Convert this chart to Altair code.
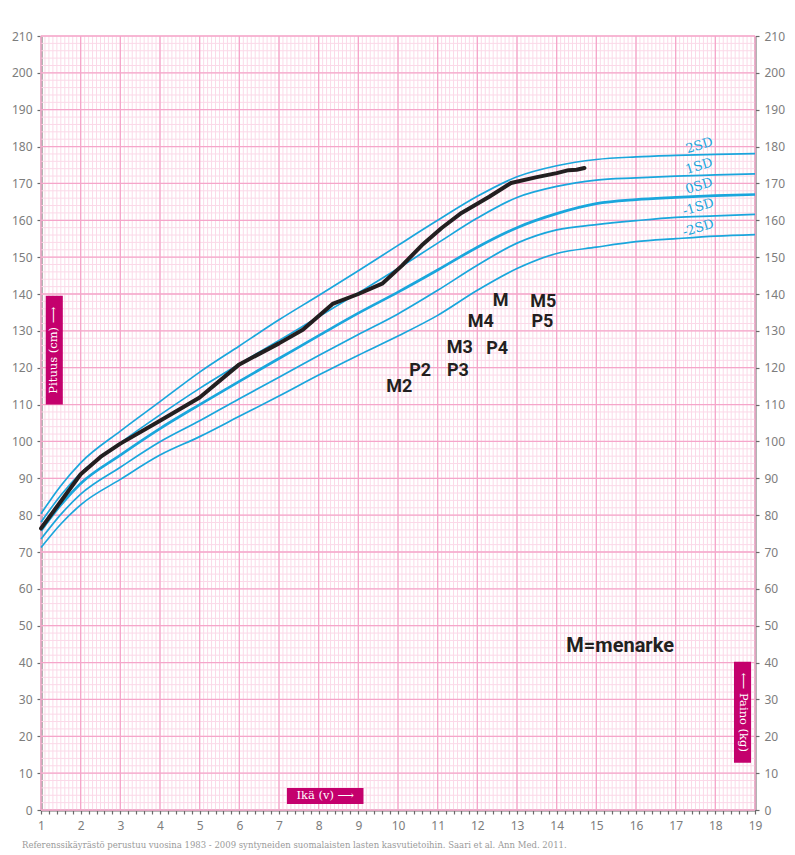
import altair as alt
import numpy as np
import pandas as pd

# ---------------- data ----------------
ages = [1, 1.5, 2, 3, 4, 5, 6, 7, 8, 9, 10, 11, 12, 13, 14, 15, 16, 17, 18, 19]
sd_p2 = [80.4, 88.0, 94.2, 102.8, 110.8, 118.8, 125.9, 133.0, 139.6, 146.3, 153.2, 160.0, 166.5, 171.8, 174.8, 176.5, 177.2, 177.6, 177.9, 178.1]
sd_p1 = [78.1, 85.4, 91.4, 99.6, 107.2, 114.4, 121.0, 127.4, 133.8, 140.3, 146.9, 153.8, 160.6, 166.2, 169.2, 170.9, 171.5, 172.0, 172.3, 172.6]
sd_0 = [75.8, 82.8, 88.6, 96.3, 103.5, 110.0, 116.3, 122.5, 128.7, 134.8, 140.5, 146.5, 152.7, 158.0, 161.8, 164.5, 165.6, 166.2, 166.7, 167.0]
sd_m1 = [73.5, 80.2, 85.7, 93.0, 99.9, 105.6, 111.6, 117.4, 123.3, 129.0, 134.6, 141.0, 147.8, 153.8, 157.4, 158.8, 159.9, 160.8, 161.2, 161.6]
sd_m2 = [71.2, 77.6, 82.8, 89.7, 96.3, 101.3, 106.8, 112.3, 118.0, 123.4, 128.6, 134.2, 141.0, 146.9, 151.0, 152.7, 154.2, 155.0, 155.7, 156.1]

child_age = [1.0, 2.0, 2.5, 3.0, 4.0, 5.0, 6.0, 7.0, 7.6, 8.35, 9.0, 9.6, 10.1, 10.6, 11.1, 11.6, 12.3, 12.85, 13.5, 14.0, 14.3, 14.5, 14.7]
child_height = [76.4, 91.1, 95.8, 99.4, 105.6, 111.9, 120.9, 126.6, 130.3, 137.3, 140.0, 142.8, 147.7, 153.2, 157.9, 162.0, 166.4, 170.1, 171.7, 172.8, 173.6, 173.7, 174.2]

stage_labels = ["M2", "P2", "M3", "P3", "M4", "P4", "M", "M5", "P5"]
stage_age = [10.03, 10.56, 11.56, 11.51, 12.09, 12.5, 12.59, 13.66, 13.64]
stage_height = [114.8, 119.2, 125.3, 119.2, 132.5, 125.1, 138.2, 137.9, 132.3]

sd_names = ["2SD", "1SD", "0SD", "-1SD", "-2SD"]
sd_label_age = [17.6, 17.59, 17.59, 17.57, 17.57]
sd_label_height = [180.3, 174.7, 169.3, 163.6, 157.9]

y_tick_values = list(range(0, 211, 10))
x_tick_values = list(range(1, 20))

footer_text = "Referenssikäyrästö perustuu vuosina 1983 - 2009 syntyneiden suomalaisten lasten kasvutietoihin. Saari et al. Ann Med. 2011."

# ---------------- style ----------------
W, H = 714, 774
CYAN = "#1aa6dc"
BLACK = "#231f20"
MAGENTA = "#c4006d"
MAJOR = "#f5a6ca"
MINOR = "#fbd9e8"
AXIS = "#6a6a6a"
LABEL = "#7d7d7d"

xs = alt.Scale(domain=[1, 19], nice=False, zero=False)
ys = alt.Scale(domain=[0, 210], nice=False, zero=False)

# grid tables
x_minor = pd.DataFrame({"age": np.round(np.arange(1, 19.0001, 0.1), 2)})
y_minor = pd.DataFrame({"h": np.arange(0, 211, 2)})
x_major = pd.DataFrame({"age": x_tick_values})
y_major = pd.DataFrame({"h": y_tick_values})

bottom_ticks = [round(v, 1) for v in np.arange(1, 19.0001, 0.2)]

common_axis = dict(
    domain=True, domainColor=AXIS, domainWidth=2,
    ticks=True, tickColor=AXIS, tickWidth=1.2, tickSize=4,
    labelColor=LABEL, labelFont="Noto Sans", labelFontSize=12,
    grid=False, title=None,
)

g_xminor = alt.Chart(x_minor).mark_rule(color=MINOR, strokeWidth=1).encode(
    x=alt.X("age:Q", scale=xs, axis=alt.Axis(
        orient="bottom", values=bottom_ticks,
        labelExpr="abs(datum.value - round(datum.value)) < 0.001 ? format(round(datum.value), 'd') : ''",
        labelFlush=False, labelOverlap=False, labelBound=False, labelPadding=6,
        **common_axis))
)
g_yminor = alt.Chart(y_minor).mark_rule(color=MINOR, strokeWidth=1).encode(
    y=alt.Y("h:Q", scale=ys, axis=alt.Axis(
        orient="right", values=y_tick_values, labelPadding=5,
        labelFlush=False, labelOverlap=False, **common_axis))
)
g_xmajor = alt.Chart(x_major).mark_rule(color=MAJOR, strokeWidth=1.3).encode(
    x=alt.X("age:Q", scale=xs, axis=None)
)
g_ymajor = alt.Chart(y_major).mark_rule(color=MAJOR, strokeWidth=1.3).encode(
    y=alt.Y("h:Q", scale=ys, axis=alt.Axis(
        orient="left", values=y_tick_values, labelPadding=5,
        labelFlush=False, labelOverlap=False, **common_axis))
)

curves = pd.DataFrame({
    "age": ages * 5,
    "height": sd_p2 + sd_p1 + sd_0 + sd_m1 + sd_m2,
    "curve": sum([[n] * len(ages) for n in sd_names], []),
})

thin = alt.Chart(curves).transform_filter("datum.curve != '0SD'").mark_line(
    color=CYAN, strokeWidth=1.7, interpolate="monotone"
).encode(
    x=alt.X("age:Q", scale=xs, axis=None),
    y=alt.Y("height:Q", scale=ys, axis=None),
    detail="curve:N",
)
thick = alt.Chart(curves).transform_filter("datum.curve == '0SD'").mark_line(
    color=CYAN, strokeWidth=2.7, interpolate="monotone"
).encode(
    x=alt.X("age:Q", scale=xs, axis=None),
    y=alt.Y("height:Q", scale=ys, axis=None),
)

child = alt.Chart(pd.DataFrame({"age": child_age, "height": child_height})).mark_line(
    color=BLACK, strokeWidth=4, strokeJoin="round", strokeCap="round"
).encode(
    x=alt.X("age:Q", scale=xs, axis=None),
    y=alt.Y("height:Q", scale=ys, axis=None),
)

sd_text = alt.Chart(pd.DataFrame({"age": sd_label_age, "height": sd_label_height, "t": sd_names})).mark_text(
    color=CYAN, font="DejaVu Serif", fontSize=13, angle=343, align="center", baseline="middle"
).encode(
    x=alt.X("age:Q", scale=xs, axis=None),
    y=alt.Y("height:Q", scale=ys, axis=None),
    text="t:N",
)

stage_text = alt.Chart(pd.DataFrame({"age": stage_age, "height": stage_height, "t": stage_labels})).mark_text(
    color=BLACK, font="Roboto", fontWeight="bold", fontSize=18, align="center", baseline="middle"
).encode(
    x=alt.X("age:Q", scale=xs, axis=None),
    y=alt.Y("height:Q", scale=ys, axis=None),
    text="t:N",
)

menarke = alt.Chart(pd.DataFrame({"age": [15.6], "height": [44.5], "t": ["M=menarke"]})).mark_text(
    color=BLACK, font="Roboto", fontWeight="bold", fontSize=20, align="center", baseline="middle"
).encode(
    x=alt.X("age:Q", scale=xs, axis=None),
    y=alt.Y("height:Q", scale=ys, axis=None),
    text="t:N",
)

boxes = pd.DataFrame({
    "x1": [1.12, 7.2, 18.47], "x2": [1.55, 9.13, 18.9],
    "y1": [110.0, 1.6, 12.8], "y2": [139.5, 6.0, 40.2],
    "cx": [1.335, 8.165, 18.685], "cy": [124.75, 3.8, 26.5],
    "t": ["Pituus (cm) ⟶", "Ikä (v) ⟶", "⟵ Paino (kg)"],
    "ang": [270, 0, 90],
})

box_rect = alt.Chart(boxes).mark_rect(color=MAGENTA).encode(
    x=alt.X("x1:Q", scale=xs, axis=None), x2="x2:Q",
    y=alt.Y("y1:Q", scale=ys, axis=None), y2="y2:Q",
)
box_text = alt.Chart(boxes).mark_text(
    color="white", font="DejaVu Serif", fontSize=11.5, align="center", baseline="middle"
).encode(
    x=alt.X("cx:Q", scale=xs, axis=None),
    y=alt.Y("cy:Q", scale=ys, axis=None),
    text="t:N",
    angle=alt.Angle("ang:Q", scale=None),
)

footer = alt.Chart(pd.DataFrame({"t": [footer_text]})).mark_text(
    color="#9a9a9a", font="DejaVu Serif", fontSize=8.5, align="left", baseline="middle"
).encode(
    x=alt.value(-19), y=alt.value(H + 35), text="t:N"
)

chart = alt.layer(
    g_xminor, g_yminor, g_xmajor, g_ymajor,
    thin, thick, child, sd_text, stage_text, menarke,
    box_rect, box_text, footer,
).resolve_axis(x="independent", y="independent").properties(
    width=W, height=H,
    autosize=alt.AutoSizeParams(type="none"),
    padding={"left": 33, "top": 28, "right": 32, "bottom": 42},
    background="white",
).configure_view(strokeWidth=0)

chart.save("out.html", embed_options={"renderer": "svg", "actions": False})
